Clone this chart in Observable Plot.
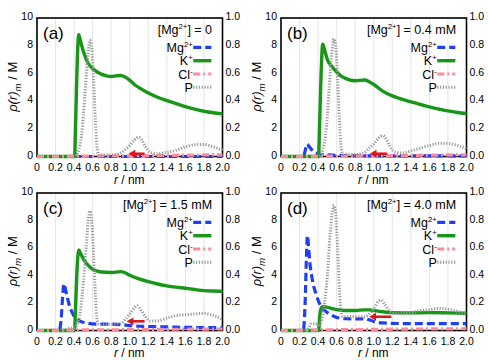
<!DOCTYPE html>
<html>
<head>
<meta charset="utf-8">
<script src="https://cdn.jsdelivr.net/npm/d3@7"></script>
<script src="https://cdn.jsdelivr.net/npm/@observablehq/plot@0.6"></script>
<style>
  body { margin: 0; background: #fff; }
  #grid { position: relative; width: 488px; height: 360px; }
  #grid svg { position: absolute; }
</style>
</head>
<body>
<div id="grid"></div>
<script>
// ---- axes & labels ----
const xTicks = [0, 0.2, 0.4, 0.6, 0.8, 1.0, 1.2, 1.4, 1.6, 1.8, 2.0];
const yTicks = [0, 2, 4, 6, 8, 10];
const gridR = [0.2, 0.4, 0.6, 0.8, 1.0, 1.2, 1.4, 1.6, 1.8];
const panelTags = ["(a)", "(b)", "(c)", "(d)"];
const mgConc = ["0", "0.4 mM", "1.5 mM", "4.0 mM"];
const legendIons = [["Mg", "2+"], ["K", "+"], ["Cl", "-"], ["P", ""]];
// red arrows: [tail r, tip r, rho]
const arrows = [[1.16, 0.99, 0.2], [1.145, 0.96, 0.2], [1.16, 0.97, 0.67], [1.19, 0.955, 1.0]];

// ---- densities rho(r)_m in M, [r (nm), value]; P on the right axis (0–1) ----
const mgA = [[0, 0], [2.0, 0]];
const kA = [[0, 0], [0.405, 0], [0.415, 2], [0.43, 6], [0.45, 8.8], [0.47, 8.3], [0.5, 7.6], [0.55, 6.75], [0.6, 6.35], [0.65, 6.1], [0.7, 5.93], [0.75, 5.82], [0.8, 5.78], [0.85, 5.82], [0.9, 5.85], [0.95, 5.74], [1.0, 5.5], [1.05, 5.2], [1.1, 4.97], [1.2, 4.58], [1.3, 4.28], [1.4, 4.04], [1.5, 3.82], [1.6, 3.6], [1.7, 3.42], [1.8, 3.27], [1.9, 3.16], [2.0, 3.08]];
const clA = [[0, 0], [0.4, 0.02], [0.8, 0.04], [1.2, 0.06], [1.6, 0.1], [2.0, 0.12]];
const pA = [[0.42, 0], [0.45, 0.05], [0.48, 0.15], [0.5, 0.3], [0.52, 0.48], [0.55, 0.74], [0.57, 0.84], [0.59, 0.78], [0.61, 0.55], [0.63, 0.25], [0.65, 0.05], [0.67, 0.01], [0.8, 0.01], [0.9, 0.025], [0.95, 0.05], [1.0, 0.08], [1.05, 0.12], [1.1, 0.14], [1.13, 0.12], [1.17, 0.07], [1.22, 0.03], [1.3, 0.02], [1.4, 0.03], [1.5, 0.045], [1.6, 0.07], [1.7, 0.085], [1.8, 0.087], [1.9, 0.07], [2.0, 0.045]];

const mgB = [[0, 0], [0.24, 0], [0.26, 0.4], [0.28, 0.9], [0.3, 0.75], [0.33, 0.5], [0.36, 0.3], [0.4, 0.2], [0.5, 0.12], [0.6, 0.08], [0.8, 0.06], [1.0, 0.05], [1.5, 0.04], [2.0, 0.04]];
const kB = [[0, 0], [0.405, 0], [0.415, 2], [0.43, 5.5], [0.45, 8.1], [0.47, 7.7], [0.5, 7.0], [0.55, 6.5], [0.6, 6.1], [0.65, 5.8], [0.7, 5.62], [0.8, 5.47], [0.9, 5.52], [0.95, 5.4], [1.0, 5.2], [1.1, 4.7], [1.2, 4.38], [1.3, 4.15], [1.4, 3.95], [1.5, 3.77], [1.6, 3.58], [1.7, 3.43], [1.8, 3.29], [1.9, 3.18], [2.0, 3.1]];
const clB = [[0, 0], [0.4, 0.02], [0.8, 0.04], [1.2, 0.06], [1.6, 0.1], [2.0, 0.12]];
const pB = [[0.42, 0], [0.45, 0.05], [0.48, 0.15], [0.5, 0.3], [0.52, 0.5], [0.55, 0.76], [0.57, 0.85], [0.59, 0.79], [0.61, 0.56], [0.63, 0.26], [0.65, 0.06], [0.67, 0.015], [0.8, 0.015], [0.9, 0.03], [0.95, 0.06], [1.0, 0.09], [1.05, 0.13], [1.1, 0.15], [1.13, 0.13], [1.17, 0.08], [1.22, 0.035], [1.3, 0.025], [1.4, 0.04], [1.5, 0.06], [1.6, 0.08], [1.7, 0.095], [1.8, 0.095], [1.9, 0.08], [2.0, 0.055]];

const mgC = [[0, 0], [0.24, 0], [0.26, 0.8], [0.28, 2.8], [0.29, 3.4], [0.3, 3.2], [0.32, 2.6], [0.35, 1.8], [0.38, 1.3], [0.4, 1.05], [0.45, 0.72], [0.5, 0.6], [0.55, 0.52], [0.6, 0.48], [0.7, 0.46], [0.8, 0.46], [0.9, 0.43], [1.0, 0.36], [1.1, 0.31], [1.2, 0.29], [1.4, 0.26], [1.6, 0.23], [1.8, 0.21], [2.0, 0.2]];
const kC = [[0, 0], [0.405, 0], [0.415, 1.5], [0.43, 4.2], [0.45, 5.85], [0.47, 5.6], [0.5, 5.2], [0.55, 4.75], [0.6, 4.45], [0.65, 4.32], [0.7, 4.25], [0.8, 4.22], [0.9, 4.28], [0.95, 4.2], [1.0, 4.02], [1.1, 3.75], [1.2, 3.55], [1.3, 3.38], [1.4, 3.25], [1.5, 3.15], [1.6, 3.07], [1.7, 2.98], [1.8, 2.9], [1.9, 2.87], [2.0, 2.85]];
const clC = [[0, 0], [0.2, 0.01], [0.5, 0.04], [1.0, 0.06], [1.5, 0.09], [2.0, 0.11]];
const pC = [[0.28, 0], [0.32, 0.01], [0.4, 0.02], [0.43, 0.04], [0.47, 0.15], [0.5, 0.35], [0.53, 0.6], [0.55, 0.78], [0.57, 0.87], [0.59, 0.8], [0.61, 0.55], [0.63, 0.25], [0.65, 0.07], [0.67, 0.043], [0.8, 0.045], [0.9, 0.05], [0.95, 0.08], [1.0, 0.12], [1.05, 0.165], [1.08, 0.18], [1.12, 0.15], [1.17, 0.1], [1.22, 0.07], [1.3, 0.07], [1.4, 0.09], [1.5, 0.108], [1.6, 0.115], [1.7, 0.12], [1.8, 0.125], [1.9, 0.11], [2.0, 0.08]];

const mgD = [[0, 0], [0.24, 0], [0.26, 2], [0.275, 5.5], [0.285, 6.9], [0.295, 6.3], [0.31, 5.0], [0.33, 4.0], [0.35, 3.3], [0.38, 2.6], [0.4, 2.2], [0.45, 1.6], [0.5, 1.3], [0.55, 1.1], [0.6, 0.95], [0.7, 0.86], [0.8, 0.85], [0.9, 0.85], [0.95, 0.78], [1.0, 0.66], [1.05, 0.58], [1.1, 0.55], [1.2, 0.52], [1.4, 0.5], [1.6, 0.5], [2.0, 0.5]];
const kD = [[0, 0], [0.405, 0], [0.42, 1.2], [0.44, 1.7], [0.46, 1.75], [0.5, 1.68], [0.55, 1.6], [0.6, 1.52], [0.7, 1.46], [0.8, 1.46], [0.9, 1.5], [0.95, 1.5], [1.0, 1.45], [1.1, 1.36], [1.2, 1.3], [1.4, 1.28], [1.6, 1.3], [1.8, 1.28], [2.0, 1.25]];
const clD = [[0, 0], [0.2, 0.01], [0.5, 0.05], [1.0, 0.08], [1.5, 0.11], [2.0, 0.13]];
const pD = [[0.26, 0], [0.3, 0.02], [0.33, 0.05], [0.37, 0.05], [0.4, 0.04], [0.43, 0.06], [0.47, 0.2], [0.5, 0.4], [0.53, 0.7], [0.55, 0.85], [0.57, 0.91], [0.59, 0.84], [0.61, 0.6], [0.63, 0.3], [0.65, 0.12], [0.67, 0.1], [0.8, 0.1], [0.9, 0.1], [0.95, 0.12], [1.0, 0.16], [1.05, 0.21], [1.08, 0.22], [1.12, 0.19], [1.17, 0.14], [1.22, 0.125], [1.3, 0.122], [1.4, 0.13], [1.5, 0.145], [1.6, 0.15], [1.7, 0.16], [1.8, 0.155], [1.9, 0.14], [2.0, 0.125]];

const series = [
  {mg: mgA, k: kA, cl: clA, p: pA},
  {mg: mgB, k: kB, cl: clB, p: pB},
  {mg: mgC, k: kC, cl: clC, p: pC},
  {mg: mgD, k: kD, cl: clD, p: pD}
];

// ---- look ----
const FONT = "'Liberation Sans', Arial, Helvetica, sans-serif";
const lineStyle = {
  mg: {stroke: "#1f3ff2", strokeWidth: 3.2, strokeDasharray: "8,4"},
  k:  {stroke: "#179617", strokeWidth: 3.4},
  cl: {stroke: "#fb8c9e", strokeWidth: 3.2, strokeDasharray: "7,3,2,3"},
  p:  {stroke: "#999999", strokeWidth: 3, strokeDasharray: "1.2,1.6"}
};
const RED = "#d8191c";
const W = 244, H = 180;
const layout = [
  {left: 0,   top: 0,   mt: 17.5, mb: 24, xlab: 27.5},
  {left: 244, top: 0,   mt: 17.5, mb: 24, xlab: 27.5},
  {left: 0,   top: 180, mt: 12.5, mb: 30, xlab: 27.4},
  {left: 244, top: 180, mt: 12.5, mb: 30, xlab: 27.4}
];

const X = d => d[0], Y = d => d[1];

function richText(sel, parts) {
  // parts: [text, kind] with kind in "", "i", "sup", "sub", "isub"
  let shift = 0;
  for (const [t, kind] of parts) {
    const ts = sel.append("tspan").text(t);
    let target = 0;
    if (kind === "i") ts.attr("font-style", "italic");
    if (kind === "sup") { ts.attr("font-size", "0.62em"); target = -5; }
    if (kind === "sub" || kind === "isub") { ts.attr("font-size", "0.75em"); target = 3.5; }
    if (kind === "isub") ts.attr("font-style", "italic");
    if (target !== shift) { ts.attr("dy", target - shift); shift = target; }
  }
}

const grid = document.getElementById("grid");

series.forEach((s, i) => {
  const L = layout[i];
  const headR = 2.9;            // triangle head size
  const headBack = 0.045;       // centroid offset of the head behind the tip (nm)
  const line = (data, key, yf = Y) =>
    Plot.line(data, {x: X, y: yf, curve: "monotone-x", strokeLinecap: "butt", strokeLinejoin: "round", ...lineStyle[key]});
  const plot = Plot.plot({
    width: W, height: H,
    marginLeft: 36.5, marginRight: 22, marginTop: L.mt, marginBottom: L.mb,
    x: {domain: [0, 2]},
    y: {domain: [0, 10]},
    style: {fontFamily: FONT, fontSize: "10.5px", color: "#000", background: "transparent", overflow: "visible"},
    marks: [
      Plot.ruleX(gridR, {stroke: "#dedede", strokeWidth: 0.8}),
      Plot.frame({stroke: "#000", strokeWidth: 1.6}),
      Plot.axisX({ticks: xTicks, tickSize: 0, tickPadding: 6.7, label: null,
                  tickFormat: d => d === 0 ? "0" : d.toFixed(1)}),
      Plot.axisY({ticks: yTicks, tickSize: 0, tickPadding: 4, dy: -1, label: null}),
      Plot.axisY({anchor: "right", ticks: yTicks, tickSize: 0, tickPadding: 3, dy: -1, label: null,
                  tickFormat: d => (d / 10).toFixed(1)}),
      line(s.mg, "mg"),
      line(s.k, "k"),
      line(s.cl, "cl"),
      line(s.p, "p", d => d[1] * 10),
      Plot.link([arrows[i]], {x1: d => d[0], x2: d => d[1] + headBack, y1: d => d[2], y2: d => d[2],
                              stroke: RED, strokeWidth: 2.6}),
      Plot.dot([arrows[i]], {x: d => d[1] + headBack, y: d => d[2], symbol: "triangle", rotate: -90,
                             r: headR, fill: RED, stroke: "none"})
    ]
  });
  plot.style.left = L.left + "px";
  plot.style.top = L.top + "px";
  grid.appendChild(plot);

  const sx = plot.scale("x"), sy = plot.scale("y");
  const fx0 = sx.apply(0), fx1 = sx.apply(2);
  const fyTop = sy.apply(10), fyBot = sy.apply(0);
  const svg = d3.select(plot);
  const g = svg.append("g").attr("font-family", FONT).attr("fill", "#000");

  // panel tag
  g.append("text").attr("x", fx0 + 6.5).attr("y", fyTop + 15.5).attr("dy", "0.35em")
    .attr("font-size", 17).attr("text-anchor", "start").text(panelTags[i]);

  // concentration heading
  richText(g.append("text").attr("x", sx.apply(1.893)).attr("y", fyTop + 12).attr("dy", "0.35em")
      .attr("font-size", 12.5).attr("text-anchor", "end"),
    [["[Mg", ""], ["2+", "sup"], ["] = " + mgConc[i], ""]]);

  // legend
  const keys = ["mg", "k", "cl", "p"];
  const rowOff = [29.8, 43.2, 56.5, 69.8];
  const lx0 = sx.apply(1.69), lx1 = sx.apply(1.885);
  keys.forEach((key, j) => {
    const yy = fyTop + rowOff[j];
    const st = lineStyle[key];
    g.append("line").attr("x1", lx0).attr("x2", lx1).attr("y1", yy).attr("y2", yy)
      .attr("stroke", st.stroke).attr("stroke-width", st.strokeWidth)
      .attr("stroke-dasharray", st.strokeDasharray || null);
    const [base, charge] = legendIons[j];
    const parts = [[base, ""]];
    if (charge) parts.push([charge, "sup"]);
    richText(g.append("text").attr("x", lx0 - 0.5).attr("y", yy).attr("dy", "0.38em")
      .attr("font-size", 12.5).attr("text-anchor", "end"), parts);
  });

  // axis titles
  richText(g.append("text").attr("x", (fx0 + fx1) / 2).attr("y", fyBot + L.xlab)
      .attr("font-size", 12).attr("text-anchor", "middle"),
    [["r", "i"], [" / nm", ""]]);
  richText(g.append("text").attr("transform", `translate(17,${(fyTop + fyBot) / 2}) rotate(-90)`)
      .attr("font-size", 13).attr("text-anchor", "middle"),
    [["\u03c1(r)", "i"], ["m", "isub"], [" / M", ""]]);
});
</script>
</body>
</html>
